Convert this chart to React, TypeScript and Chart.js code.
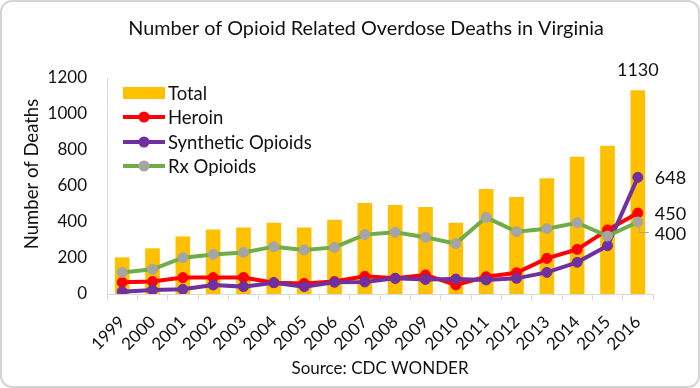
import React, { useEffect, useRef } from "react";
import { Chart, registerables } from "chart.js";

Chart.register(...registerables);

const years = ["1999", "2000", "2001", "2002", "2003", "2004", "2005", "2006", "2007", "2008", "2009", "2010", "2011", "2012", "2013", "2014", "2015", "2016"];
const totalDeaths = [202, 252, 318, 356, 367, 394, 367, 411, 504, 493, 482, 394, 582, 537, 641, 761, 822, 1130];
const heroinDeaths = [65, 69, 91, 91, 92, 63, 59, 69, 98, 87, 106, 50, 96, 118, 198, 248, 356, 450];
const syntheticDeaths = [13, 22, 26, 50, 41, 63, 41, 65, 67, 87, 81, 83, 78, 87, 120, 176, 268, 648];
const rxDeaths = [120, 137, 202, 220, 231, 263, 244, 259, 330, 343, 315, 280, 426, 346, 363, 396, 322, 400];
const yTicks = [0, 200, 400, 600, 800, 1000, 1200];

const FONT = "Lato";
const TEXT = "#111111";
const GOLD = "#FFC000";
const RED = "#FF0000";
const PURPLE = "#7030A0";
const GREEN = "#70AD47";
const GRAY = "#A5A5A5";

const annotations = {
  id: "annotations",
  afterDatasetsDraw(chart: any) {
    const ctx = chart.ctx;
    const area = chart.chartArea;
    ctx.save();
    // title
    ctx.fillStyle = TEXT;
    ctx.font = `19.8px ${FONT}`;
    ctx.textAlign = "center";
    ctx.textBaseline = "middle";
    ctx.fillText("Number of Opioid Related Overdose Deaths in Virginia", 366, 29);

    // y axis title
    ctx.save();
    ctx.translate(32, 174);
    ctx.rotate(-Math.PI / 2);
    ctx.font = `18.5px ${FONT}`;
    ctx.fillText("Number of Deaths", 0, 0);
    ctx.restore();

    // legend
    const lx = area.left + 16;
    const lw = 42;
    const rows = [93, 117, 142, 166];
    ctx.fillStyle = GOLD;
    ctx.fillRect(lx, rows[0] - 6, lw, 12);
    const lineItems = [
      { y: rows[1], line: RED, dot: RED },
      { y: rows[2], line: PURPLE, dot: PURPLE },
      { y: rows[3], line: GREEN, dot: GRAY },
    ];
    lineItems.forEach((it) => {
      ctx.strokeStyle = it.line;
      ctx.lineWidth = 4;
      ctx.beginPath();
      ctx.moveTo(lx, it.y);
      ctx.lineTo(lx + lw, it.y);
      ctx.stroke();
      ctx.fillStyle = it.dot;
      ctx.beginPath();
      ctx.arc(lx + lw / 2, it.y, 5.5, 0, Math.PI * 2);
      ctx.fill();
    });
    ctx.fillStyle = TEXT;
    ctx.font = `18.5px ${FONT}`;
    ctx.textAlign = "left";
    ["Total", "Heroin", "Synthetic Opioids", "Rx Opioids"].forEach((t, i) => {
      ctx.fillText(t, lx + lw + 3, rows[i] + 1);
    });

    // data labels at last point
    ctx.font = `18px ${FONT}`;
    const last = years.length - 1;
    const bar = chart.getDatasetMeta(0).data[last];
    ctx.textAlign = "center";
    ctx.textBaseline = "middle";
    ctx.fillText(String(totalDeaths[last]), bar.x, bar.y - 20);

    const pHero = chart.getDatasetMeta(1).data[last];
    const pSyn = chart.getDatasetMeta(2).data[last];
    const pRx = chart.getDatasetMeta(3).data[last];
    ctx.textAlign = "left";
    ctx.fillText(String(syntheticDeaths[last]), pSyn.x + 17, pSyn.y + 1);
    ctx.fillText(String(heroinDeaths[last]), pHero.x + 17, pHero.y + 1);
    const rxLabelY = pRx.y + 11;
    ctx.fillText(String(rxDeaths[last]), pRx.x + 17, rxLabelY + 1);
    ctx.strokeStyle = "#A6A6A6";
    ctx.lineWidth = 1;
    ctx.beginPath();
    ctx.moveTo(pRx.x + 1.5, pRx.y + 5);
    ctx.lineTo(pRx.x + 1.5, rxLabelY - 0.5);
    ctx.lineTo(pRx.x + 11, rxLabelY - 0.5);
    ctx.stroke();
    ctx.restore();
  },
};

export default function App() {
  const ref = useRef<HTMLCanvasElement | null>(null);
  useEffect(() => {
    if (!ref.current) return;
    const font = { family: FONT, size: 17 };
    const lineDs = (label: string, data: number[], line: string, dot: string, order: number) => ({
      type: "line" as const,
      label,
      data,
      borderColor: line,
      backgroundColor: dot,
      borderWidth: 4,
      pointRadius: 5,
      pointBorderWidth: 1,
      pointBackgroundColor: dot,
      pointBorderColor: dot,
      tension: 0,
      order,
    });
    const chart = new Chart(ref.current, {
      type: "bar",
      data: {
        labels: years,
        datasets: [
          { type: "bar" as const, label: "Total", data: totalDeaths, backgroundColor: GOLD, barThickness: 14, order: 4 } as any,
          lineDs("Heroin", heroinDeaths, RED, RED, 3),
          lineDs("Synthetic Opioids", syntheticDeaths, PURPLE, PURPLE, 2),
          lineDs("Rx Opioids", rxDeaths, GREEN, GRAY, 1),
        ],
      },
      options: {
        responsive: false,
        animation: false,
        layout: { padding: { left: 10, right: 47, top: 78, bottom: 8 } },
        plugins: {
          legend: { display: false },
          title: { display: false },
          tooltip: { enabled: false },
        },
        scales: {
          x: {
            offset: true,
            grid: { display: true, drawOnChartArea: false, color: "#d9d9d9", tickLength: 6, offset: true },
            border: { display: true, color: "#d9d9d9", width: 1 },
            ticks: { font, color: TEXT, minRotation: 45, maxRotation: 45, autoSkip: false, padding: 12 },
            title: { display: true, text: "Source: CDC WONDER", font, color: TEXT, padding: { top: 0, bottom: 1 } },
            afterFit: (s: any) => {
              s.height = 388 - 294 - 8;
            },
          },
          y: {
            min: 0,
            max: 1200,
            afterBuildTicks: (s: any) => {
              s.ticks = yTicks.map((v) => ({ value: v }));
            },
            ticks: { font, color: TEXT, padding: 20, callback: (v: any) => String(v) },
            grid: { display: false, drawTicks: false },
            border: { display: true, color: "#d9d9d9", width: 1 },
            title: { display: false },
            afterFit: (s: any) => {
              s.width = 97;
            },
          },
        },
      },
      plugins: [annotations],
    } as any);
    return () => chart.destroy();
  }, []);

  return (
    <div style={{ position: "fixed", left: 0, top: 0, width: 700, height: 388, background: "#fff" }}>
      <canvas ref={ref} width={700} height={388} style={{ display: "block", position: "absolute", left: 0, top: 0 }} />
      <div
        style={{
          position: "absolute",
          left: 0,
          top: 0,
          width: 700,
          height: 388,
          boxSizing: "border-box",
          border: "2px solid #d4d4d4",
          borderRadius: 12,
          pointerEvents: "none",
        }}
      />
    </div>
  );
}
